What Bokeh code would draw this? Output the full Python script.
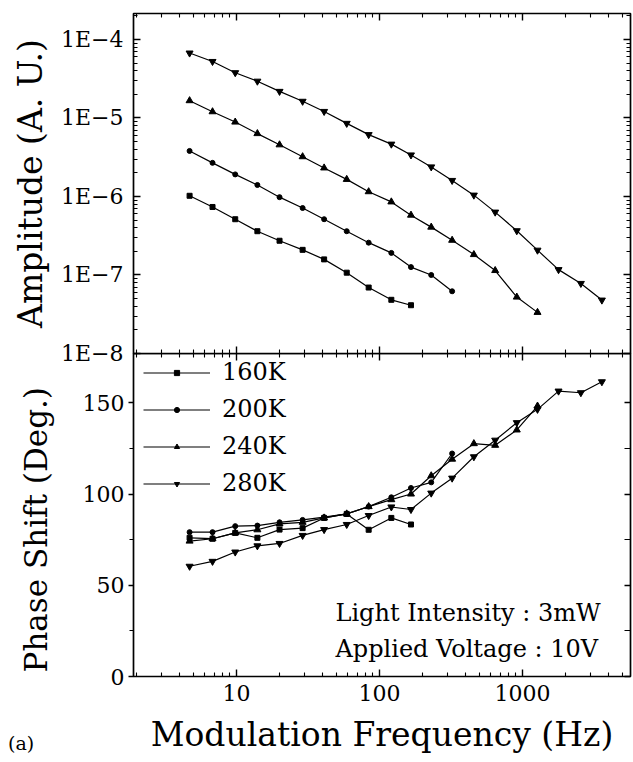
from bokeh.plotting import figure
from bokeh.models import (Range1d, LogAxis, LinearAxis, FixedTicker, CustomJSTickFormatter,
                          Legend, LegendItem, Label, Div)
from bokeh.layouts import column
from bokeh.embed import file_html
from bokeh.resources import INLINE

# ---------------- data ----------------
freq = [4.7, 6.8, 9.8, 14, 20, 29, 41, 59, 84, 121, 166, 230, 322, 457, 644, 912,
        1273, 1786, 2559, 3589]

amp_160 = [1.02e-6, 7.35e-7, 5.13e-7, 3.61e-7, 2.73e-7, 2.09e-7, 1.58e-7, 1.07e-7,
           6.92e-8, 4.83e-8, 4.12e-8]
amp_200 = [3.80e-6, 2.68e-6, 1.91e-6, 1.40e-6, 9.80e-7, 7.13e-7, 5.13e-7, 3.61e-7,
           2.58e-7, 1.91e-7, 1.26e-7, 1.00e-7, 6.20e-8]
amp_240 = [1.66e-5, 1.20e-5, 8.87e-6, 6.32e-6, 4.55e-6, 3.21e-6, 2.31e-6, 1.65e-6,
           1.15e-6, 8.53e-7, 5.78e-7, 4.07e-7, 2.77e-7, 1.82e-7, 1.14e-7, 5.23e-8, 3.34e-8]
amp_280 = [6.71e-5, 5.24e-5, 3.77e-5, 2.94e-5, 2.18e-5, 1.63e-5, 1.21e-5, 8.53e-6,
           6.13e-6, 4.64e-6, 3.38e-6, 2.38e-6, 1.60e-6, 1.04e-6, 6.32e-7, 3.66e-7,
           2.07e-7, 1.17e-7, 7.80e-8, 4.79e-8]

phase_160 = [76.0, 75.5, 78.7, 76.0, 80.5, 81.3, 86.9, 89.1, 80.4, 86.9, 83.3]
phase_200 = [79.1, 79.1, 82.4, 82.7, 84.5, 85.8, 87.3, 89.1, 93.1, 98.2, 103.3, 106.4, 122.2]
phase_240 = [74.2, 75.5, 78.7, 80.4, 83.6, 84.5, 86.9, 89.1, 93.1, 96.9, 100.0, 110.0,
             119.1, 127.6, 126.7, 135.1, 148.2]
phase_280 = [60.4, 63.1, 68.2, 71.6, 72.9, 77.3, 80.5, 83.3, 88.2, 92.9, 91.5, 100.5,
             108.7, 120.4, 129.5, 139.1, 146.4, 156.4, 155.5, 161.5]

series_labels = ["160K", "200K", "240K", "280K"]
amp_series = [amp_160, amp_200, amp_240, amp_280]
phase_series = [phase_160, phase_200, phase_240, phase_280]
markers = ["square", "circle", "triangle", "inverted_triangle"]
marker_sizes = [5, 5, 7, 7]

x_major = [10, 100, 1000]
amp_major = [1e-8, 1e-7, 1e-6, 1e-5, 1e-4]
phase_major = [0, 50, 100, 150]
phase_minor = [25, 75, 125]

FONT = "DejaVu Serif"
x_minor = [k * 10 ** e for e in range(0, 4) for k in range(2, 10)]
amp_minor = [k * 10.0 ** e for e in range(-9, -3) for k in range(2, 10)]

x_range = Range1d(1.905, 5690)


def tick_style(ax, tin, tout, minin, minout):
    ax.major_tick_in = tin
    ax.major_tick_out = tout
    ax.minor_tick_in = minin
    ax.minor_tick_out = minout
    ax.major_tick_line_color = "black"
    ax.minor_tick_line_color = "black"
    ax.major_tick_line_width = 1.4
    ax.minor_tick_line_width = 1.1
    ax.axis_line_color = None


def hide_labels(ax):
    ax.formatter = CustomJSTickFormatter(code="return '';")
    ax.major_label_text_font_size = "2px"
    ax.major_label_standoff = 0


def label_style(ax, size="22px", title_size="33px"):
    ax.major_label_text_font = FONT
    ax.major_label_text_font_size = size
    ax.major_label_text_color = "black"
    ax.axis_label_text_font = FONT
    ax.axis_label_text_font_style = "normal"
    ax.axis_label_text_font_size = title_size
    ax.axis_label_text_color = "black"


# ---------------- top panel: amplitude ----------------
p1 = figure(frame_width=497, frame_height=340, x_axis_type="log", y_axis_type="log",
            x_range=x_range, y_range=Range1d(1e-8, 2.14e-4),
            output_backend="svg", toolbar_location=None,
            min_border_left=133, min_border_right=3, min_border_top=13, min_border_bottom=14)
p1.grid.visible = False
p1.outline_line_color = "black"
p1.outline_line_width = 1.7

yl = p1.yaxis[0]
yl.ticker = FixedTicker(ticks=amp_major, minor_ticks=amp_minor)
yl.formatter = CustomJSTickFormatter(
    code="const e = Math.round(Math.log10(tick)); return '1E' + (e < 0 ? '\u2212' + (-e) : String(e));")
tick_style(yl, 7, 0, 4, 0)
label_style(yl)
yl.major_label_standoff = 10
yl.axis_label = "Amplitude (A. U.)"
yl.axis_label_standoff = 8

xb = p1.xaxis[0]
xb.ticker = FixedTicker(ticks=x_major, minor_ticks=x_minor)
tick_style(xb, 7, 0, 4, 0)
hide_labels(xb)

xa = LogAxis(ticker=FixedTicker(ticks=x_major, minor_ticks=x_minor))
tick_style(xa, 7, 0, 4, 0)
hide_labels(xa)
p1.add_layout(xa, "above")

yr = LogAxis(ticker=FixedTicker(ticks=amp_major, minor_ticks=amp_minor))
tick_style(yr, 7, 0, 4, 0)
hide_labels(yr)
p1.add_layout(yr, "right")

for amp, mk, ms in zip(amp_series, markers, marker_sizes):
    xs = freq[:len(amp)]
    p1.line(xs, amp, line_color="black", line_width=1.2)
    p1.scatter(xs, amp, marker=mk, size=ms, fill_color="black", line_color="black")

# ---------------- bottom panel: phase ----------------
p2 = figure(frame_width=497, frame_height=323, x_axis_type="log",
            x_range=x_range, y_range=Range1d(0, 177),
            output_backend="svg", toolbar_location=None,
            min_border_left=133, min_border_right=3, min_border_top=0, min_border_bottom=84,
            margin=(-14, 0, 0, 0), background_fill_color=None, border_fill_color=None)
p2.grid.visible = False
p2.outline_line_color = "black"
p2.outline_line_width = 1.7

yl2 = p2.yaxis[0]
yl2.ticker = FixedTicker(ticks=phase_major, minor_ticks=phase_minor)
tick_style(yl2, 0, 5, 0, 4)
label_style(yl2, title_size="31px")
yl2.major_label_standoff = 4
# trailing no-break spaces shift the visible words a little below the frame centre
yl2.axis_label = "Phase Shift (Deg.)\u00a0\u00a0\u00a0"
yl2.axis_label_standoff = 26

xb2 = p2.xaxis[0]
xb2.ticker = FixedTicker(ticks=x_major, minor_ticks=x_minor)
xb2.formatter = CustomJSTickFormatter(code="return String(Math.round(tick));")
tick_style(xb2, 7, 0, 4, 0)
label_style(xb2)
xb2.major_label_standoff = 8
xb2.axis_label = "Modulation Frequency (Hz)"
xb2.axis_label_standoff = 11

xa2 = LogAxis(ticker=FixedTicker(ticks=x_major, minor_ticks=x_minor))
tick_style(xa2, 7, 0, 4, 0)
hide_labels(xa2)
p2.add_layout(xa2, "above")

yr2 = LinearAxis(ticker=FixedTicker(ticks=phase_major, minor_ticks=phase_minor))
tick_style(yr2, 6, 0, 6, 0)
hide_labels(yr2)
p2.add_layout(yr2, "right")

items = []
for lab, ph, mk, ms in zip(series_labels, phase_series, markers, marker_sizes):
    xs = freq[:len(ph)]
    r1 = p2.line(xs, ph, line_color="black", line_width=1.2)
    r2 = p2.scatter(xs, ph, marker=mk, size=ms, fill_color="black", line_color="black")
    items.append(LegendItem(label=lab, renderers=[r1, r2]))

legend = Legend(items=items, location=(10, 179), orientation="vertical",
                border_line_color=None, background_fill_alpha=0,
                glyph_width=67, glyph_height=13, label_standoff=12, spacing=9,
                padding=0, margin=0, label_height=28,
                label_text_font=FONT, label_text_font_size="24px",
                label_text_color="black")
p2.add_layout(legend)

p2.add_layout(Label(x=202, y=64, x_units="screen", y_units="screen",
                    text="Light Intensity : 3mW", text_baseline="middle",
                    text_font=FONT, text_font_size="24px", text_color="black"))
p2.add_layout(Label(x=202, y=28, x_units="screen", y_units="screen",
                    text="Applied Voltage : 10V", text_baseline="middle",
                    text_font=FONT, text_font_size="24px", text_color="black"))

tag = Div(text='<span style="font-family: \'DejaVu Serif\'; font-size: 19px; '
               'line-height: 22px; color: black;">(a)</span>',
          margin=(-28, 0, 0, 8))

layout = column(p1, p2, tag)
open("out.html", "w").write(file_html(layout, INLINE))
